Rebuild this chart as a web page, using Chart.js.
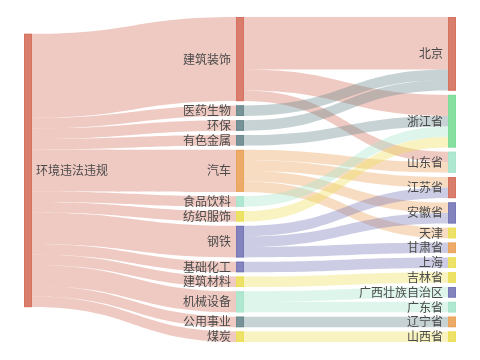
<!DOCTYPE html>
<html>
<head>
<meta charset="utf-8">
<script src="https://cdn.jsdelivr.net/npm/chart.js@4"></script>
<style>
  html, body { margin: 0; padding: 0; background: #fff; }
  #wrap { width: 480px; height: 360px; }
</style>
</head>
<body>
<div id="wrap"><canvas id="c" width="480" height="360"></canvas></div>
<script>
// ---------------- data ----------------
const rootName = '环境违法违规';
const industries = ['建筑装饰','医药生物','环保','有色金属','汽车','食品饮料','纺织服饰','钢铁','基础化工','建筑材料','机械设备','公用事业','煤炭'];
const industryValues = [8,1,1,1,4,1,1,3,1,1,2,1,1];
const regions = ['北京','浙江省','山东省','江苏省','安徽省','天津','甘肃省','上海','吉林省','广西壮族自治区','广东省','辽宁省','山西省'];
const flowSource = ['建筑装饰','建筑装饰','建筑装饰','医药生物','环保','有色金属','汽车','汽车','汽车','汽车','食品饮料','纺织服饰','钢铁','钢铁','钢铁','基础化工','建筑材料','机械设备','机械设备','公用事业','煤炭'];
const flowTarget = ['北京','浙江省','山东省','北京','北京','浙江省','山东省','江苏省','安徽省','天津','浙江省','浙江省','江苏省','安徽省','甘肃省','上海','吉林省','广西壮族自治区','广东省','辽宁省','山西省'];
const flowValue  = [5,2,1,1,1,1,1,1,1,1,1,1,1,1,1,1,1,1,1,1,1];

// ---------------- styles ----------------
const C = { red:'#d6735f', grey:'#6c8a8f', orange:'#eba45c', mint:'#a9e5cc', yellow:'#ece05a', purple:'#7878b9', green:'#7ddc98' };
const rootColor = C.red;
const industryColors = [C.red,C.grey,C.grey,C.grey,C.orange,C.mint,C.yellow,C.purple,C.purple,C.yellow,C.mint,C.grey,C.yellow];
const regionColors = [C.red,C.green,C.mint,C.red,C.purple,C.yellow,C.orange,C.yellow,C.yellow,C.purple,C.mint,C.orange,C.yellow];
const NODE_GAP = 0.41;      // in value units
const ROOT_OFFSET = 1.6;    // in value units
const NODE_WIDTH = 8;       // px
const LINK_ALPHA = 0.38;

// ---------------- build graph ----------------
const nodes = [];
nodes.push({ name: rootName, col: 0, color: rootColor, label: 'right' });
industries.forEach((n, i) => nodes.push({ name: n, col: 1, color: industryColors[i], label: 'left' }));
regions.forEach((n, i) => nodes.push({ name: n, col: 2, color: regionColors[i], label: 'left' }));
const byName = {};
nodes.forEach(n => { byName[n.name] = n; n.inL = []; n.outL = []; });
const links = [];
industries.forEach((n, i) => links.push({ s: byName[rootName], t: byName[n], v: industryValues[i] }));
flowSource.forEach((s, i) => links.push({ s: byName[s], t: byName[flowTarget[i]], v: flowValue[i] }));
links.forEach(l => { l.s.outL.push(l); l.t.inL.push(l); });
nodes.forEach(n => {
  const a = n.inL.reduce((p, l) => p + l.v, 0), b = n.outL.reduce((p, l) => p + l.v, 0);
  n.value = Math.max(a, b);
});
const cols = [0, 1, 2].map(c => nodes.filter(n => n.col === c));
cols.forEach((list, c) => {
  let y = c === 0 ? ROOT_OFFSET : 0;
  list.forEach(n => { n.y0 = y; y += n.value + NODE_GAP; });
});
nodes.forEach(n => {
  let y = n.y0;
  n.outL.slice().sort((a, b) => a.t.y0 - b.t.y0).forEach(l => { l.sy = y; y += l.v; });
  y = n.y0;
  n.inL.slice().sort((a, b) => a.s.y0 - b.s.y0).forEach(l => { l.ty = y; y += l.v; });
});
const yMax = Math.max(...cols.map(list => list.reduce((p, n) => p + n.value, 0) + NODE_GAP * (list.length - 1)));

function rgba(hex, a) {
  const v = parseInt(hex.slice(1), 16);
  return `rgba(${(v >> 16) & 255},${(v >> 8) & 255},${v & 255},${a})`;
}

const sankeyPlugin = {
  id: 'sankey',
  afterDatasetsDraw(chart) {
    const ctx = chart.ctx, xs = chart.scales.x, ys = chart.scales.y;
    ctx.save();
    // links
    links.forEach(l => {
      const x0 = xs.getPixelForValue(l.s.col) + NODE_WIDTH;
      const x1 = xs.getPixelForValue(l.t.col);
      const a0 = ys.getPixelForValue(l.sy), a1 = ys.getPixelForValue(l.sy + l.v);
      const b0 = ys.getPixelForValue(l.ty), b1 = ys.getPixelForValue(l.ty + l.v);
      const xm = (x0 + x1) / 2;
      ctx.beginPath();
      ctx.moveTo(x0, a0);
      ctx.bezierCurveTo(xm, a0, xm, b0, x1, b0);
      ctx.lineTo(x1, b1);
      ctx.bezierCurveTo(xm, b1, xm, a1, x0, a1);
      ctx.closePath();
      ctx.fillStyle = rgba(l.s.color, LINK_ALPHA);
      ctx.fill();
    });
    // nodes
    nodes.forEach(n => {
      const x = xs.getPixelForValue(n.col);
      const top = ys.getPixelForValue(n.y0), bot = ys.getPixelForValue(n.y0 + n.value);
      ctx.fillStyle = rgba(n.color, 0.92);
      ctx.fillRect(x, top, NODE_WIDTH, bot - top);
      ctx.strokeStyle = n.color;
      ctx.lineWidth = 1;
      ctx.strokeRect(x + 0.5, top + 0.5, NODE_WIDTH - 1, bot - top - 1);
    });
    // labels
    ctx.font = '12px "Noto Sans CJK SC", "Noto Sans", sans-serif';
    ctx.fillStyle = '#4a4a4a';
    ctx.textBaseline = 'middle';
    nodes.forEach(n => {
      const x = xs.getPixelForValue(n.col);
      const yc = ys.getPixelForValue(n.y0 + n.value / 2);
      if (n.label === 'left') { ctx.textAlign = 'right'; ctx.fillText(n.name, x - 5, yc); }
      else { ctx.textAlign = 'left'; ctx.fillText(n.name, x + NODE_WIDTH + 4, yc); }
    });
    ctx.restore();
  }
};

new Chart(document.getElementById('c'), {
  type: 'scatter',
  data: { datasets: [{ data: [], pointRadius: 0 }] },
  options: {
    responsive: false,
    animation: false,
    layout: { padding: { left: 24, right: 32, top: 17, bottom: 18 } },
    scales: {
      x: { type: 'linear', min: 0, max: 2, display: false },
      y: { type: 'linear', min: 0, max: yMax, reverse: true, display: false }
    },
    plugins: { legend: { display: false }, tooltip: { enabled: false } }
  },
  plugins: [sankeyPlugin]
});
</script>
</body>
</html>
